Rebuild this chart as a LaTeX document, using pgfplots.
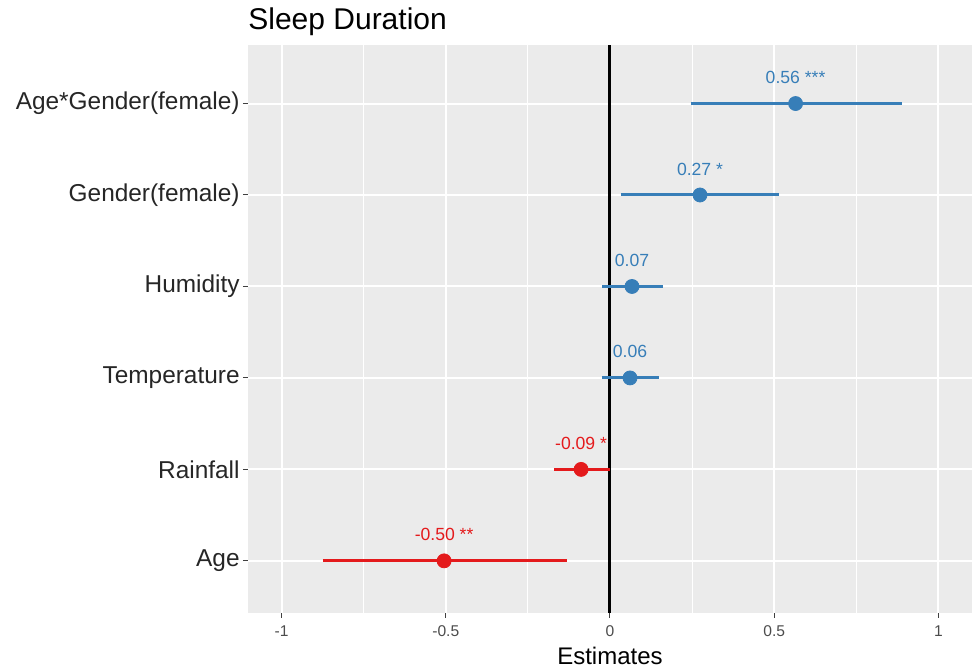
\documentclass[border=0pt]{standalone}
\usepackage{fontspec}
\setmainfont{Liberation Sans}
\usepackage{pgfplots}
\pgfplotsset{compat=1.18}
\usetikzlibrary{calc}
\definecolor{panel}{RGB}{235,235,235}
\definecolor{sjblue}{RGB}{55,126,184}
\definecolor{sjred}{RGB}{228,26,28}
\begin{document}
\begin{tikzpicture}
\begin{axis}[
  scale only axis, width=362pt, height=284pt,
  xmin=-1.102, xmax=1.102, ymin=0.43, ymax=6.64,
  axis background/.style={fill=panel},
  axis line style={draw=none},
  xtick={-1,-0.5,0,0.5,1},
  xticklabels={-1,-0.5,0,0.5,1},
  minor xtick={-0.75,-0.25,0.25,0.75},
  ytick={1,2,3,4,5,6},
  yticklabels={Age,Rainfall,Temperature,Humidity,Gender(female),Age*Gender(female)},
  grid=both,
  major grid style={white, line width=1pt},
  minor grid style={white, line width=0.5pt},
  tick align=outside, tick pos=left,
  major tick length=2.5pt, minor tick length=0pt,
  tick style={black!75, line width=0.5pt},
  xticklabel style={font=\fontsize{7.8}{9}\selectfont, text=black!70, yshift=-0.5pt},
  yticklabel style={font=\fontsize{12.2}{14}\selectfont, text=black!85, inner sep=1.5pt},
  xlabel={Estimates},
  xlabel style={font=\fontsize{12}{14}\selectfont, text=black, yshift=2pt},
  title={Sleep Duration},
  title style={at={(0,1)}, anchor=base west, yshift=1.5pt, inner sep=0pt, font=\fontsize{15}{17}\selectfont},
  clip=false,
]
% zero line
\addplot[black, line width=1.5pt] coordinates {(0,0.43) (0,6.64)};
% confidence intervals
\addplot[sjblue, line width=1.5pt] coordinates {(0.246,6) (0.889,6)};
\addplot[sjblue, line width=1.5pt] coordinates {(0.033,5) (0.514,5)};
\addplot[sjblue, line width=1.5pt] coordinates {(-0.024,4) (0.161,4)};
\addplot[sjblue, line width=1.5pt] coordinates {(-0.024,3) (0.149,3)};
\addplot[sjred, line width=1.5pt] coordinates {(-0.170,2) (0.0,2)};
\addplot[sjred, line width=1.5pt] coordinates {(-0.874,1) (-0.131,1)};
% points
\addplot[only marks, mark=*, mark size=3.5pt, color=sjblue,
  nodes near coords, point meta=explicit symbolic,
  nodes near coords style={anchor=center, yshift=13pt, font=\fontsize{8.8}{10}\selectfont, text=sjblue}]
  coordinates {(0.565,6) [0.56 ***] (0.274,5) [0.27 *] (0.067,4) [0.07] (0.061,3) [0.06]};
\addplot[only marks, mark=*, mark size=3.5pt, color=sjred,
  nodes near coords, point meta=explicit symbolic,
  nodes near coords style={anchor=center, yshift=13pt, font=\fontsize{8.8}{10}\selectfont, text=sjred}]
  coordinates {(-0.088,2) [-0.09 *] (-0.505,1) [-0.50 **]};
\end{axis}
\path (current axis.south west) ++(-124pt,-27.5pt) rectangle ($(current axis.north east)+(2.5pt,22.5pt)$);
\end{tikzpicture}
\end{document}
